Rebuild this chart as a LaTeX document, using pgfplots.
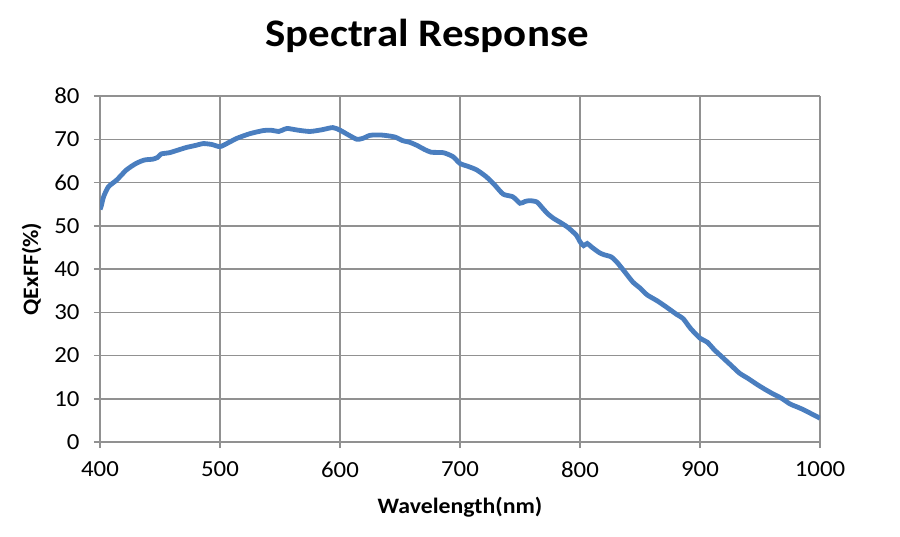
\documentclass[border=0pt]{standalone}
\usepackage{pgfplots}
\pgfplotsset{compat=1.18}
\usepackage{fontspec}
\setmainfont{Carlito}
\newfontfamily\titlefont[FakeStretch=1.1]{Carlito}
\newfontfamily\labfont[FakeStretch=1.08]{Carlito}
\definecolor{qeblue}{RGB}{74,126,191}
\definecolor{gridgray}{RGB}{145,145,145}
\begin{document}
\begin{tikzpicture}[x=1pt,y=1pt]
\useasboundingbox (0,0) rectangle (900,536);
\node[font=\titlefont\fontsize{39}{44}\selectfont\bfseries] at (427,500) {Spectral Response};
\begin{axis}[
  at={(100pt,94pt)}, anchor=south west,
  width=720pt, height=346pt, scale only axis=true,
  xmin=400, xmax=1000, ymin=0, ymax=80,
  xtick={400,500,...,1000}, ytick={0,10,...,80},
  grid=major, major grid style={gridgray, line width=1.5pt},
  axis lines=left, axis line style={-, gridgray, line width=1.5pt},
  tick style={gridgray, line width=1.5pt},
  tick align=outside, major tick length=6pt,
  /pgf/number format/assume math mode=true,
  /pgf/number format/1000 sep={},
  ticklabel style={font=\labfont\fontsize{23}{27}\selectfont},
  xticklabel style={yshift=-10pt},
  yticklabel style={xshift=-11pt},
  xlabel={\textbf{Wavelength(nm)}},
  ylabel={\textbf{QExFF(\%)}},
  label style={font=\labfont\fontsize{22}{26}\selectfont},
  xlabel style={yshift=-13pt},
  ylabel style={yshift=6pt},
]
\addplot[qeblue, line width=4.8pt, smooth, tension=0.4] coordinates {
(400,53.8)(401,54.5)(403,56.7)(407,59)(414,60.6)(422,62.9)(430,64.4)(437,65.2)(444,65.4)
(448,65.8)(451,66.6)(458,66.9)(465,67.5)(472,68.1)(480,68.6)(486,69.0)(493,68.8)(500,68.3)
(507,69.2)(514,70.2)(525,71.3)(536,72)(542,72.1)(549,71.8)(552,72.1)(556,72.5)(565,72.1)
(575,71.8)(585,72.2)(594,72.7)(600,72.1)(607,71)(614,70)(619,70.2)(625,70.9)(633,71)
(640,70.8)(646,70.5)(652,69.7)(658,69.3)(664,68.6)(670,67.7)(676,67)(686,66.9)(694,66)
(700,64.4)(707,63.7)(714,62.9)(722,61.3)(729,59.4)(736,57.3)(744,56.7)(750,55.2)(754,55.6)
(758,55.8)(764,55.5)(769,54)(773,52.8)(778,51.7)(784,50.7)(790,49.6)(797,47.8)(800,46.3)
(803,45.4)(806,45.9)(810,45)(816,43.8)(820,43.3)(826,42.8)(831,41.5)(836,39.8)(844,37)
(850,35.6)(856,34)(864,32.7)(872,31.2)(880,29.6)(886,28.5)(892,26.3)(900,24)(906,23.1)
(912,21.3)(919,19.5)(926,17.7)(933,15.9)(940,14.7)(947,13.4)(954,12.2)(961,11.1)
(968,10.1)(975,8.8)(981,8.1)(986,7.5)(993,6.5)(1000,5.5)
};
\end{axis}
\end{tikzpicture}
\end{document}
